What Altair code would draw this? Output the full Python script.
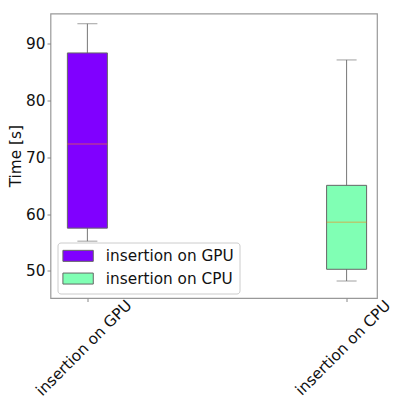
import altair as alt
import pandas as pd

categories = ["insertion on GPU", "insertion on CPU"]
positions = [1, 2]
whisker_low = [55.25, 48.24]
q1 = [57.54, 50.3]
median = [72.34, 58.59]
q3 = [88.36, 65.07]
whisker_high = [93.5, 87.13]
colors = ["#8000ff", "#80ffb4"]
y_ticks = [50, 60, 70, 80, 90]

df = pd.DataFrame({
    "cat": categories,
    "pos": positions,
    "low": whisker_low,
    "q1": q1,
    "med": median,
    "q3": q3,
    "high": whisker_high,
})

FONT = "DejaVu Sans"
FS = 15.3

label_expr = "[" + ",".join(f"'{c}'" for c in categories) + "][datum.value - 1]"

x = alt.X("pos:Q",
          scale=alt.Scale(domain=[0.877, 2.098], nice=False, zero=False),
          axis=alt.Axis(values=positions, labelExpr=label_expr, title=None,
                        labelAngle=315, labelAlign="center", labelBaseline="middle",
                        labelPadding=46, labelOffset=-4, labelFontSize=FS, labelColor="#111",
                        tickColor="#888", tickSize=3.5, domain=False, grid=False))
yscale = alt.Scale(domain=[45.25, 95.3], nice=False, zero=False)
yaxis = alt.Axis(values=y_ticks, title="Time [s]", titleFontSize=FS,
                 titleFontWeight="normal", titleColor="#111", titlePadding=2,
                 labelFontSize=FS, labelColor="#111", labelPadding=2,
                 tickColor="#888", tickSize=3.5, domain=False, grid=False)

base = alt.Chart(df)

whiskers = base.mark_rule(color="#777", strokeWidth=1).encode(
    x=x, y=alt.Y("low:Q", scale=yscale, axis=yaxis), y2="high:Q")

caps_low = base.mark_tick(orient="horizontal", size=20, thickness=1, color="#777").encode(
    x="pos:Q", y="low:Q")
caps_high = base.mark_tick(orient="horizontal", size=20, thickness=1, color="#777").encode(
    x="pos:Q", y="high:Q")

legend = alt.Legend(
    title=None, orient="none", legendX=7, legendY=229,
    symbolType="M-2.76,-1L2.76,-1L2.76,1L-2.76,1Z", symbolSize=121,
    symbolStrokeColor="#666", symbolStrokeWidth=1, symbolOpacity=1,
    symbolOffset=7.25, labelOffset=20.05, labelFontSize=FS, labelFont=FONT,
    labelColor="#111", rowPadding=6.7, padding=5.7,
    fillColor="white", strokeColor="#cccccc", cornerRadius=3,
)

boxes = base.mark_bar(size=40, stroke="#666", strokeWidth=1, opacity=1).encode(
    x="pos:Q", y="q1:Q", y2="q3:Q",
    color=alt.Color("cat:N", scale=alt.Scale(domain=categories, range=colors),
                    legend=legend, sort=categories))

medians = base.mark_tick(orient="horizontal", size=40, thickness=1.5,
                         color="#ff7f0e", opacity=0.4).encode(x="pos:Q", y="med:Q")

chart = alt.layer(whiskers, caps_low, caps_high, boxes, medians).properties(
    width=326.5, height=284.5,
    autosize=alt.AutoSizeParams(type="none"),
    padding={"left": 50.5, "top": 13.5, "right": 21, "bottom": 98},
).configure(font=FONT).configure_view(stroke="#999", strokeWidth=1.2)

chart.save("out.html", embed_options={"renderer": "svg", "actions": False})
